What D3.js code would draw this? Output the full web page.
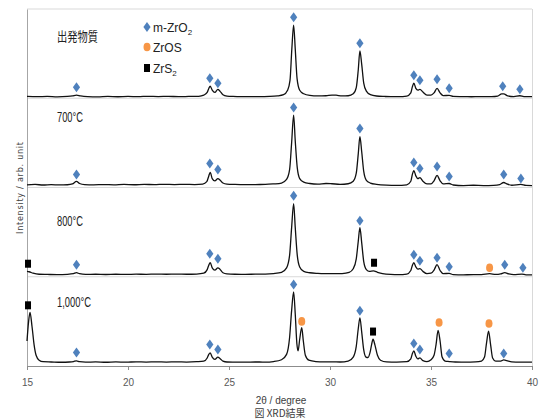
<!DOCTYPE html>
<html>
<head>
<meta charset="utf-8">
<script src="https://cdn.jsdelivr.net/npm/d3@7/dist/d3.min.js"></script>
<style>
  body { margin: 0; background: #fff; }
  svg { display: block; }
</style>
</head>
<body>
<script>
// tick labels on 2theta axis
var twoThetaTicks = [15, 20, 25, 30, 35, 40];
var gridValues = [100, 200, 300, 400];

var sampleNames = ["出発物質", "700°C", "800°C", "1,000°C"];
var sampleOffsets = [300, 200, 100, 0];

var phaseNames = ["m-ZrO", "ZrOS", "ZrS"];
var phaseSubs = ["2", "", "2"];
var phaseColors = ["#4f81bd", "#f79646", "#000000"];

// [2theta, intensity]
var patternStart = [[15.0,2.2],[15.5,1.8],[16.0,2.0],[16.5,1.6],[17.0,2.0],[17.25,2.6],[17.45,3.6],[17.65,2.6],[18.0,1.8],[18.5,1.6],[19.0,2.0],[19.5,1.7],[20.0,2.0],[20.5,1.8],[21.0,2.2],[21.5,1.9],[22.0,2.1],[22.5,1.8],[23.0,2.0],[23.5,2.2],[23.75,3.5],[23.92,6.5],[24.0,11],[24.07,13.5],[24.17,9],[24.3,6.5],[24.45,10],[24.55,8],[24.7,4],[24.9,2.5],[25.2,2.0],[25.6,1.8],[26.0,1.9],[26.5,1.8],[27.0,2.0],[27.4,2.6],[27.7,4.0],[27.9,9.0],[28.02,20],[28.11,55],[28.2,82],[28.28,55],[28.37,22],[28.5,9],[28.7,5],[29.0,3.2],[29.4,2.6],[29.8,2.8],[30.1,3.6],[30.3,3.4],[30.6,2.6],[30.9,2.8],[31.15,5],[31.3,12],[31.4,32],[31.48,53],[31.57,38],[31.67,17],[31.8,8],[32.0,4],[32.3,2.5],[32.7,2.0],[33.0,1.8],[33.4,1.8],[33.8,2.4],[34.0,6],[34.08,13],[34.15,17],[34.25,11],[34.35,9],[34.45,10],[34.6,7],[34.8,3.5],[35.0,3.5],[35.15,6],[35.3,11],[35.45,6],[35.6,3],[35.9,3.2],[36.1,2],[36.5,1.8],[37.0,1.7],[37.5,1.8],[38.0,1.9],[38.3,2.5],[38.5,5],[38.6,5],[38.8,2.6],[39.1,1.9],[39.4,2.8],[39.6,1.8],[40.0,1.8]];

var pattern700 = [[15.0,3.0],[15.4,3.4],[15.8,2.8],[16.2,3.2],[16.6,2.9],[17.0,3.1],[17.25,4.0],[17.45,6.8],[17.6,4.5],[17.85,3.2],[18.3,3.0],[18.8,3.3],[19.3,3.0],[19.8,3.4],[20.3,3.1],[20.8,3.5],[21.3,3.2],[21.8,3.6],[22.3,3.3],[22.8,3.5],[23.3,3.3],[23.7,3.8],[23.9,6.5],[24.0,13],[24.07,17],[24.17,10],[24.3,7.5],[24.45,10],[24.55,8.5],[24.7,5],[24.9,3.8],[25.3,3.4],[25.8,3.2],[26.3,3.3],[26.8,3.4],[27.2,4],[27.6,5],[27.85,9],[28.0,20],[28.1,50],[28.2,81],[28.28,52],[28.38,22],[28.5,10],[28.7,6],[29.0,4.5],[29.4,3.8],[29.8,4.5],[30.1,4.2],[30.5,3.6],[30.9,4.2],[31.15,7],[31.3,16],[31.4,38],[31.48,57],[31.57,40],[31.67,18],[31.8,8],[32.0,5],[32.3,3.5],[32.8,2.6],[33.3,2.4],[33.8,3],[34.0,7],[34.08,15],[34.15,19],[34.25,13],[34.35,10],[34.45,11],[34.6,7],[34.8,4],[35.0,4],[35.15,7.5],[35.3,13.5],[35.45,7.5],[35.6,4],[35.9,4.5],[36.1,2.8],[36.6,2.2],[37.1,2.5],[37.6,2.2],[38.1,2.4],[38.4,3.2],[38.6,5.6],[38.75,4],[39.0,2.5],[39.45,3.5],[39.7,2.3],[40.0,2.2]];

var pattern800 = [[15.0,6],[15.1,5.6],[15.3,4],[15.6,2.8],[16.0,2.6],[16.5,2.4],[17.0,2.7],[17.3,3.4],[17.45,4.6],[17.6,3.4],[17.9,2.6],[18.4,2.8],[18.9,2.5],[19.4,2.8],[19.9,2.6],[20.4,2.9],[20.9,2.7],[21.4,3.0],[21.9,2.8],[22.4,3.0],[22.9,2.8],[23.4,3.0],[23.75,4],[23.92,8],[24.0,13],[24.07,15.7],[24.17,10],[24.3,7.5],[24.45,10],[24.55,8.5],[24.7,4.5],[24.9,3.2],[25.3,2.8],[25.8,2.7],[26.3,2.9],[26.8,3.0],[27.2,3.6],[27.6,5],[27.85,10],[28.0,24],[28.1,55],[28.2,82],[28.28,55],[28.38,24],[28.5,11],[28.7,6],[29.0,4.5],[29.4,3.8],[29.8,3.5],[30.2,3.4],[30.6,3.6],[30.95,5],[31.15,9],[31.3,20],[31.4,40],[31.48,55],[31.57,38],[31.67,17],[31.8,8],[31.95,6],[32.15,6.5],[32.35,5],[32.6,3.5],[33.0,2.6],[33.4,2.4],[33.8,3],[34.0,7],[34.08,13],[34.15,15.7],[34.25,11],[34.35,8.5],[34.45,9],[34.6,6],[34.8,3.5],[35.0,4],[35.15,7.5],[35.3,13.5],[35.45,7],[35.6,3.5],[35.9,3.8],[36.1,2.4],[36.6,2.2],[37.1,2.3],[37.5,2.4],[37.9,3.4],[38.2,2.6],[38.45,3.2],[38.65,4.6],[38.85,3.2],[39.1,2.4],[39.5,3.0],[39.7,2.2],[40.0,2.2]];

var pattern1000 = [[15.0,28],[15.08,50],[15.15,60],[15.25,44],[15.35,24],[15.45,12],[15.6,6.5],[15.8,4.8],[16.2,4.5],[16.7,4.2],[17.1,4.5],[17.3,5],[17.45,5.8],[17.6,4.8],[17.9,4.3],[18.4,4.6],[18.9,4.2],[19.4,4.6],[19.9,4.3],[20.4,4.7],[20.9,4.4],[21.4,4.7],[21.9,4.4],[22.4,4.7],[22.9,4.4],[23.4,4.8],[23.75,5.5],[23.92,9],[24.0,13],[24.07,14.6],[24.17,10],[24.3,7.5],[24.45,10],[24.55,8.5],[24.7,5.5],[24.9,4.5],[25.3,4.4],[25.8,4.3],[26.3,4.5],[26.8,4.4],[27.2,5],[27.6,7],[27.85,13],[28.0,32],[28.1,62],[28.2,83],[28.28,58],[28.36,25],[28.42,17],[28.5,30],[28.6,43],[28.68,28],[28.78,12],[28.95,6.5],[29.3,5],[29.7,4.6],[30.1,4.7],[30.5,4.5],[30.9,5.5],[31.15,10],[31.3,22],[31.4,42],[31.48,54],[31.57,38],[31.67,18],[31.78,10],[31.88,9.5],[31.98,15],[32.06,24],[32.13,30],[32.22,24],[32.35,12],[32.5,6.5],[32.8,4.6],[33.3,4.4],[33.8,4.8],[34.0,8],[34.08,14],[34.15,17],[34.25,11],[34.35,8],[34.45,9],[34.6,6],[34.8,5],[35.0,7],[35.15,12],[35.25,24],[35.35,40],[35.45,28],[35.55,10],[35.7,5.5],[35.9,5],[36.2,4.5],[36.7,4.4],[37.2,4.6],[37.5,5.5],[37.65,10],[37.75,26],[37.85,39],[37.95,24],[38.05,9],[38.2,5.5],[38.45,5.5],[38.6,6.8],[38.75,6],[39.0,4.6],[39.4,4.3],[39.7,4.4],[40.0,4.3]];

var patterns = [patternStart, pattern700, pattern800, pattern1000];

// peak markers: [2theta, intensity, phase index]
var markersStart = [[17.45,12.3,0],[24.05,22.4,0],[24.45,16.8,0],[28.2,90.8,0],[31.48,61.6,0],[34.15,25.8,0],[34.45,20.2,0],[35.3,21.3,0],[35.9,11.2,0],[38.55,13.4,0],[39.4,10.1,0]];
var markers700 = [[17.45,14.6,0],[24.05,26.9,0],[24.45,20.2,0],[28.2,89.6,0],[31.48,66.1,0],[34.15,28,0],[34.45,21.3,0],[35.3,23.5,0],[35.9,12.3,0],[38.6,14.6,0],[39.45,10.1,0]];
var markers800 = [[15.05,14.6,2],[17.45,13.4,0],[24.05,25.8,0],[24.45,20.2,0],[28.2,90.8,0],[31.48,62.7,0],[32.18,15.7,2],[34.15,24.6,0],[34.45,17.9,0],[35.3,21.3,0],[35.9,11.2,0],[37.9,10.1,1],[38.65,13.4,0],[39.55,10.1,0]];
var markers1000 = [[15.05,68,2],[17.45,15,0],[24.05,24,0],[24.45,18.5,0],[28.2,91.3,0],[28.6,50,1],[31.48,62,0],[32.13,38.6,2],[34.15,25.2,0],[34.45,18.5,0],[35.4,48.7,1],[35.9,14,0],[37.87,47.6,1],[38.6,14,0]];
var markerSets = [markersStart, markers700, markers800, markers1000];

var width = 539, height = 419;

var svg = d3.select('body').append('svg')
  .attr('width', width)
  .attr('height', height);

var x = d3.scaleLinear().domain([15, 40]).range([27, 532]);
var y = d3.scaleLinear().domain([0, 400]).range([366, 9]);

// gridlines
svg.append('g').selectAll('line')
  .data(gridValues)
  .enter().append('line')
  .attr('x1', x(15)).attr('x2', x(40))
  .attr('y1', function(d){ return y(d); })
  .attr('y2', function(d){ return y(d); })
  .style('stroke', '#d9d9d9')
  .style('stroke-width', 1);

// right border with small ticks
svg.append('line')
  .attr('x1', x(40) + 0.5).attr('x2', x(40) + 0.5)
  .attr('y1', y(400)).attr('y2', y(0))
  .style('stroke', '#d9d9d9');

// left axis (line only)
svg.append('g')
  .attr('transform', 'translate(' + x(15) + ',0)')
  .call(d3.axisLeft(y).tickValues([]).tickSizeOuter(0))
  .call(function(g){ g.select('.domain').style('stroke', '#a6a6a6'); });

// bottom axis
var xAxis = svg.append('g')
  .attr('transform', 'translate(0,' + y(0) + ')')
  .call(d3.axisBottom(x).tickValues(twoThetaTicks).tickSize(4).tickSizeOuter(0).tickPadding(9));
xAxis.select('.domain').style('stroke', '#8c8c8c');
xAxis.selectAll('.tick line').style('stroke', '#8c8c8c');
xAxis.selectAll('.tick text')
  .style('font-family', '"Liberation Sans Narrow", "Liberation Sans", sans-serif')
  .style('font-size', '10px')
  .style('fill', '#595959');

// patterns
patterns.forEach(function(pat, i){
  var off = sampleOffsets[i];
  var line = d3.line()
    .x(function(d){ return x(d[0]); })
    .y(function(d){ return y(d[1] + off); })
    .curve(d3.curveMonotoneX);
  svg.append('path')
    .datum(pat)
    .attr('d', line)
    .style('fill', 'none')
    .style('stroke', '#111')
    .style('stroke-width', 1.3);
});

// markers
function drawMarker(g, phase, px, py){
  if (phase === 0) {
    g.append('path')
      .attr('d', 'M0,-5L3.6,0L0,5L-3.6,0Z')
      .attr('transform', 'translate(' + px + ',' + py + ')')
      .style('fill', phaseColors[0]);
  } else if (phase === 1) {
    g.append('ellipse')
      .attr('cx', px).attr('cy', py)
      .attr('rx', 3.5).attr('ry', 4.3)
      .style('fill', phaseColors[1]);
  } else {
    g.append('rect')
      .attr('x', px - 3).attr('y', py - 4)
      .attr('width', 6).attr('height', 8)
      .style('fill', phaseColors[2]);
  }
}

var markerLayer = svg.append('g');
markerSets.forEach(function(set, i){
  var off = sampleOffsets[i];
  set.forEach(function(m){
    drawMarker(markerLayer, m[2], x(m[0]), y(m[1] + off));
  });
});

// sample labels
var labelPos = [[57, 41, 41], [57, 122, 26], [57, 226, 26], [57, 307, 34]];
sampleNames.forEach(function(name, i){
  var t = svg.append('text')
    .attr('x', labelPos[i][0])
    .attr('y', labelPos[i][1])
    .attr('textLength', labelPos[i][2])
    .attr('lengthAdjust', 'spacingAndGlyphs')
    .style('font-size', i === 0 ? '13px' : '14px')
    .style('fill', '#222')
    .text(name);
  t.style('font-family', i === 0 ? '"Noto Sans CJK JP", sans-serif' : '"Liberation Sans Narrow", "Liberation Sans", sans-serif');
});

// legend
var legendY = [27, 47, 68];
var legendW = [30, 19, 16];
phaseNames.forEach(function(name, i){
  drawMarker(svg, i, 147, legendY[i]);
  var t = svg.append('text')
    .attr('x', 153)
    .attr('y', legendY[i] + 5)
    .style('font-family', '"Liberation Sans Narrow", "Liberation Sans", sans-serif')
    .style('font-size', '12px')
    .style('fill', '#222');
  t.append('tspan').text(name);
  if (phaseSubs[i]) {
    t.append('tspan')
      .attr('dy', 3)
      .style('font-size', '8px')
      .text(phaseSubs[i]);
  }
});

// axis titles
svg.append('text')
  .attr('transform', 'translate(23,188) rotate(-90)')
  .attr('text-anchor', 'middle')
  .attr('textLength', 92)
  .attr('lengthAdjust', 'spacing')
  .style('font-family', '"DejaVu Sans", sans-serif')
  .style('font-size', '8px')
  .style('fill', '#404040')
  .text('Intensity / arb. unit');

svg.append('text')
  .attr('x', 281)
  .attr('y', 404)
  .attr('text-anchor', 'middle')
  .style('font-family', '"Liberation Sans Narrow", "Liberation Sans", sans-serif')
  .style('font-size', '10px')
  .style('fill', '#404040')
  .text('2θ / degree');

svg.append('text')
  .attr('x', 280)
  .attr('y', 417)
  .attr('text-anchor', 'middle')
  .style('font-family', '"Noto Sans CJK JP", sans-serif')
  .style('font-size', '10px')
  .style('fill', '#404040')
  .text('図 XRD結果');
</script>
</body>
</html>
